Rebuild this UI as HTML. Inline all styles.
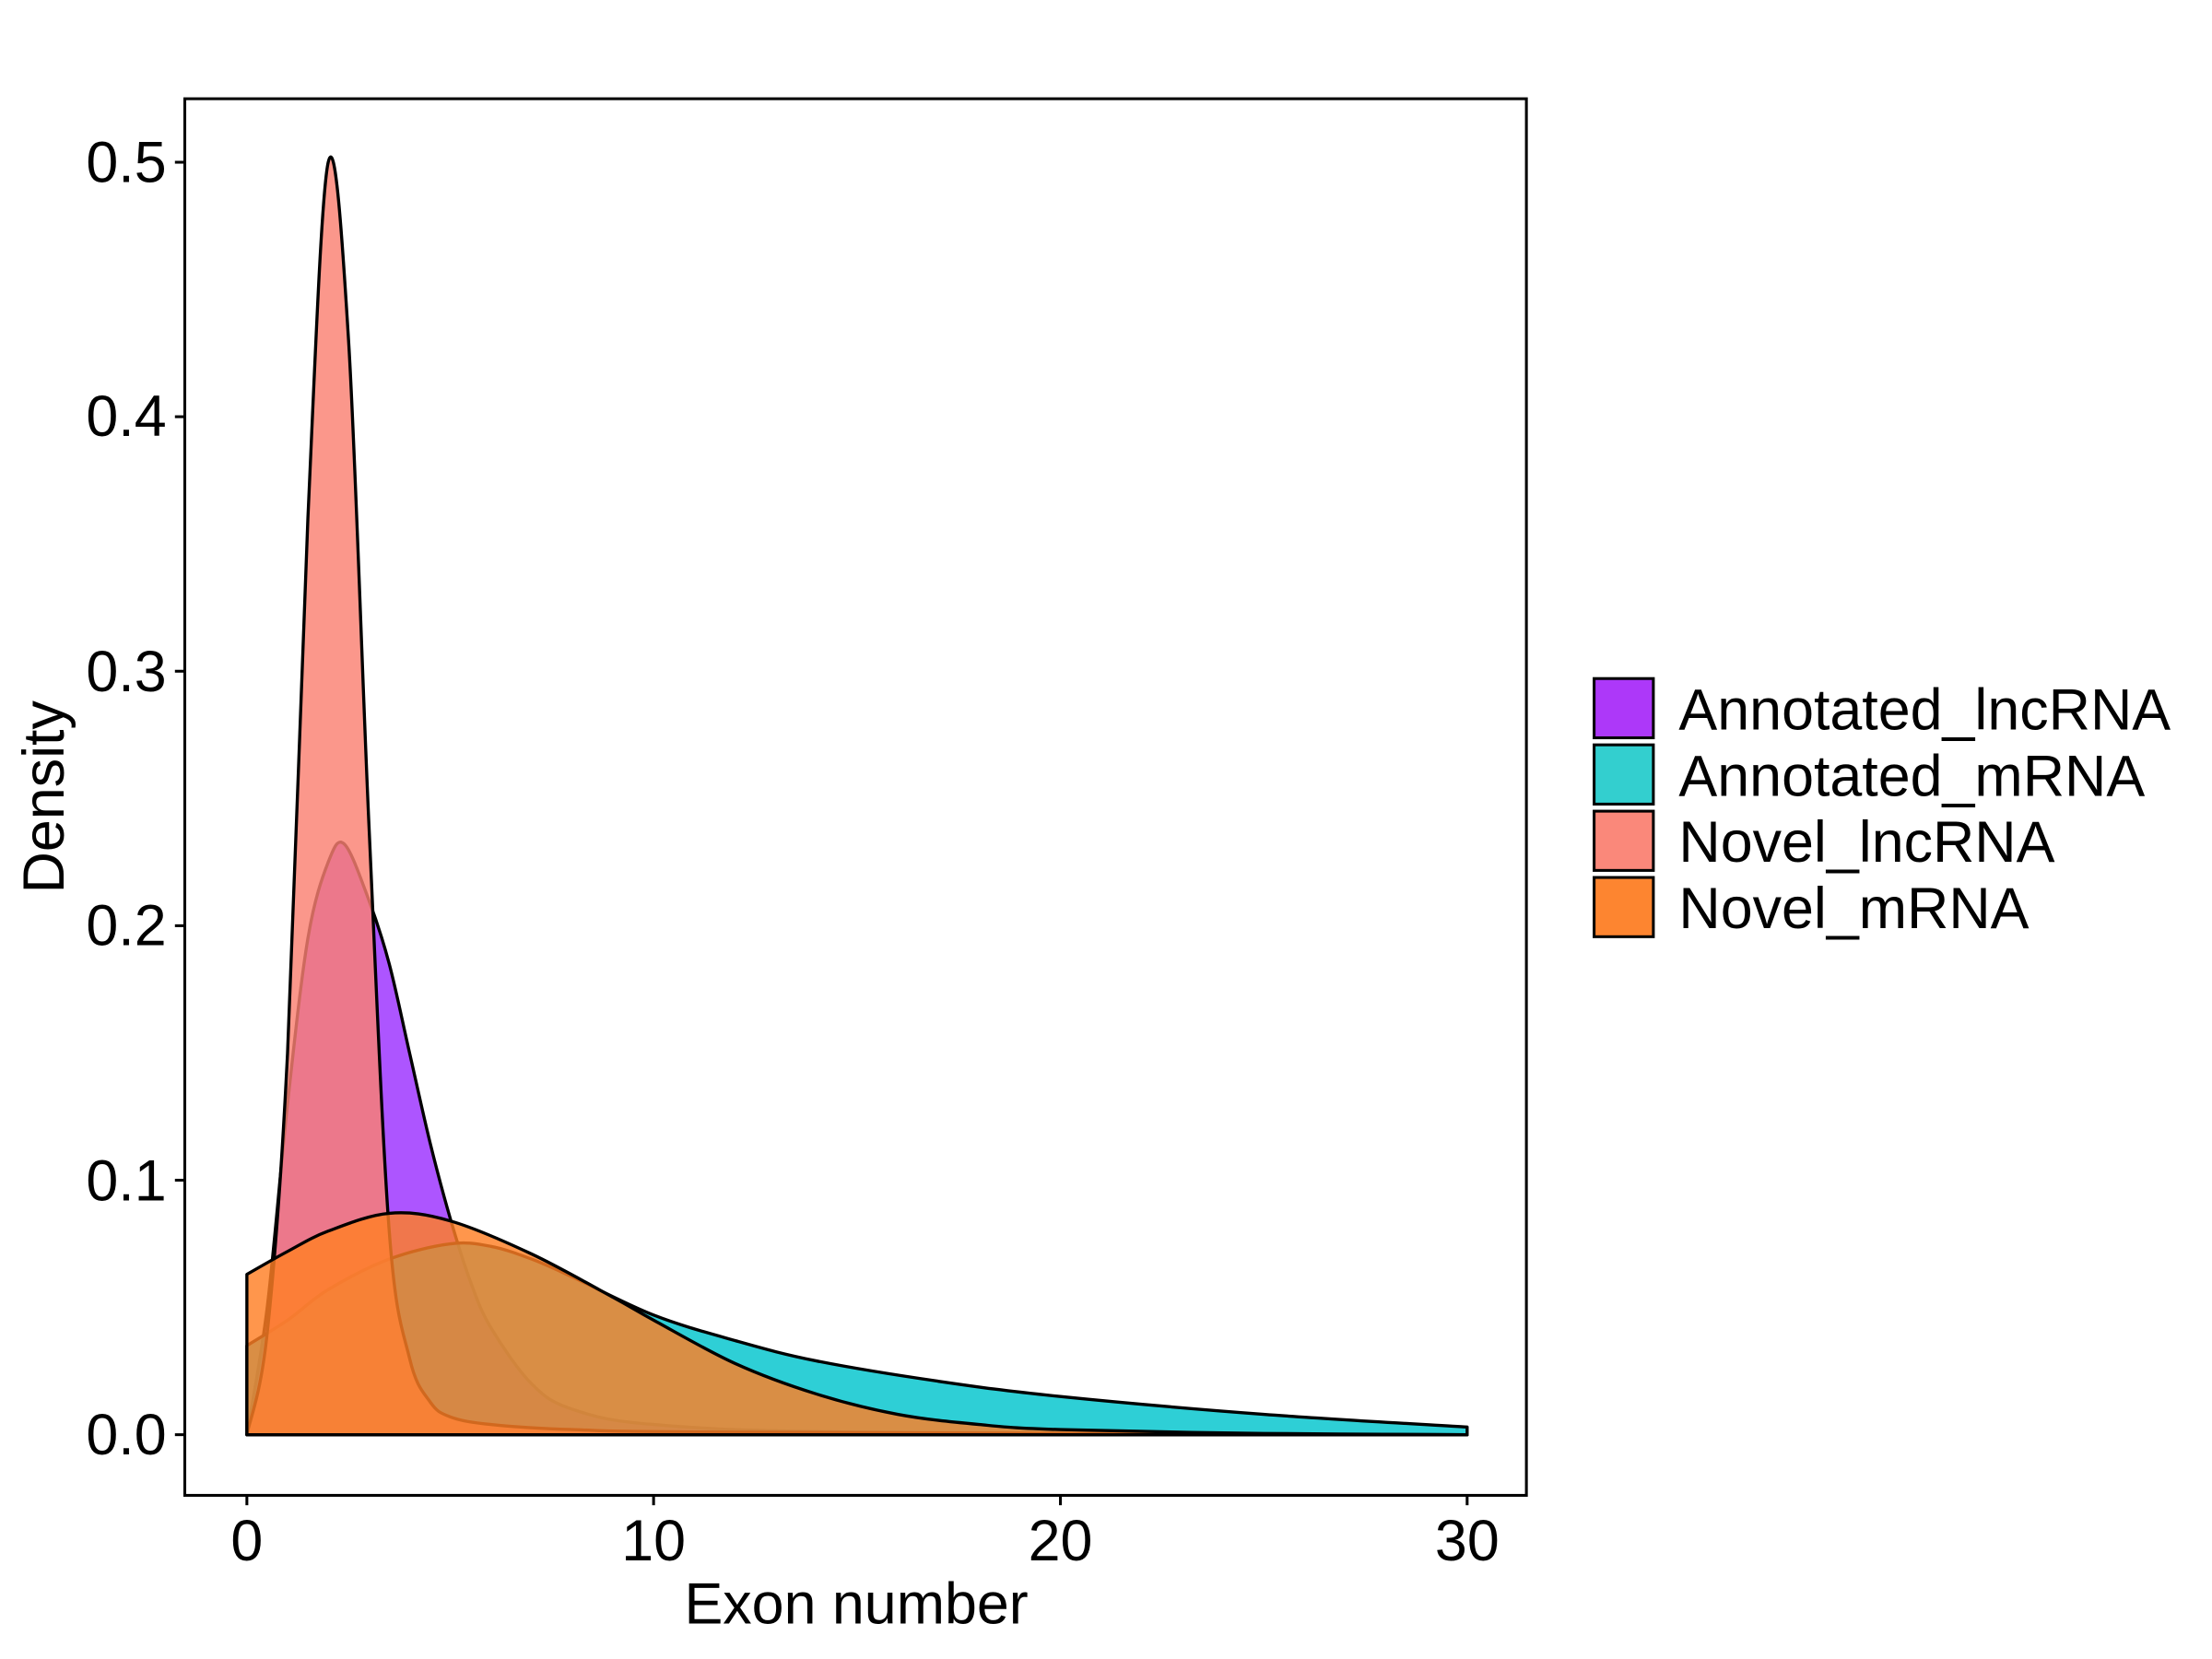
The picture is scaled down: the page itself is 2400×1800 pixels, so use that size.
<!DOCTYPE html>
<html><head><meta charset="utf-8"><style>html,body{margin:0;padding:0;background:#fff}svg{display:block}</style></head>
<body>
<svg id="s" width="2400" height="1800" viewBox="0 0 1568 1176" xmlns="http://www.w3.org/2000/svg" font-family="Liberation Sans, sans-serif">
<rect x="0" y="0" width="1568" height="1176" fill="#fff"/>
<g id="curves"></g>
<rect x="131" y="70" width="951" height="990" fill="none" stroke="#000" stroke-width="2"/>
<g stroke="#000" stroke-width="2">
<line x1="124" y1="1017" x2="131" y2="1017"/><line x1="124" y1="836.6" x2="131" y2="836.6"/>
<line x1="124" y1="656.2" x2="131" y2="656.2"/><line x1="124" y1="475.8" x2="131" y2="475.8"/>
<line x1="124" y1="295.4" x2="131" y2="295.4"/><line x1="124" y1="115" x2="131" y2="115"/>
<line x1="175" y1="1060" x2="175" y2="1067"/><line x1="463.3" y1="1060" x2="463.3" y2="1067"/>
<line x1="751.7" y1="1060" x2="751.7" y2="1067"/><line x1="1040" y1="1060" x2="1040" y2="1067"/>
</g>
<g font-size="41" fill="#000" text-anchor="end">
<text x="118" y="1031">0.0</text><text x="118" y="851">0.1</text><text x="118" y="670">0.2</text>
<text x="118" y="490">0.3</text><text x="118" y="309">0.4</text><text x="118" y="129">0.5</text>
</g>
<g font-size="41" fill="#000" text-anchor="middle">
<text x="175" y="1106">0</text><text x="463.3" y="1106">10</text><text x="751.7" y="1106">20</text><text x="1040" y="1106">30</text>
<text x="607" y="1151" font-size="41">Exon number</text>
<text transform="translate(45,565) rotate(-90)" font-size="41">Density</text>
</g>
<g stroke="#000" stroke-width="2">
<rect x="1130" y="481" width="42" height="42" fill="#ad38f9"/>
<rect x="1130" y="528" width="42" height="42" fill="#33cfcf"/>
<rect x="1130" y="575" width="42" height="42" fill="#fa887a"/>
<rect x="1130" y="622" width="42" height="42" fill="#fd8530"/>
</g>
<g font-size="41" fill="#000">
<text x="1190" y="517">Annotated_lncRNA</text>
<text x="1190" y="564">Annotated_mRNA</text>
<text x="1190" y="611">Novel_lncRNA</text>
<text x="1190" y="658">Novel_mRNA</text>
</g>
</svg>
<script>
function px(x){return 175+28.833*x}
function py(y){return 1017-1804*y}
function path(pts){
 var P=pts.map(function(p){return[px(p[0]),py(p[1])]});
 var d="M"+P[0][0]+","+P[0][1];
 for(var i=0;i<P.length-1;i++){
  var p0=P[i-1]||P[i],p1=P[i],p2=P[i+1],p3=P[i+2]||P[i+1];
  var c1=[p1[0]+(p2[0]-p0[0])/6,p1[1]+(p2[1]-p0[1])/6];
  var c2=[p2[0]-(p3[0]-p1[0])/6,p2[1]-(p3[1]-p1[1])/6];
  d+=" C"+c1[0]+","+Math.min(c1[1],1017)+" "+c2[0]+","+Math.min(c2[1],1017)+" "+p2[0]+","+p2[1];
 }
 return d;
}
var series=[
 {c:"#9b30ff",p:[[0,0],[0.5,0.05],[1,0.13],[1.5,0.195],[2,0.225],[2.4,0.232],[3,0.21],[3.5,0.185],[4,0.15],[4.5,0.115],[5,0.085],[5.5,0.06],[6,0.042],[7,0.02],[8,0.01],[10,0.004],[15,0.001],[30,0]]},
 {c:"#00c5cd",p:[[0,0.035],[1,0.045],[2,0.057],[3.5,0.069],[5,0.075],[6,0.074],[7,0.069],[8,0.062],[10,0.047],[12,0.037],[14,0.029],[17,0.021],[20,0.015],[25,0.008],[30,0.003]]},
 {c:"#fa8072",p:[[0,0],[0.5,0.04],[1,0.15],[1.5,0.36],[2,0.5],[2.5,0.43],[3,0.24],[3.5,0.08],[4,0.03],[4.5,0.013],[5,0.007],[6,0.004],[8,0.002],[12,0.001],[30,0]]},
 {c:"#ff7f24",p:[[0,0.063],[1,0.072],[2,0.080],[3.5,0.087],[5,0.084],[7,0.071],[9,0.054],[10,0.045],[12,0.028],[14,0.016],[16,0.008],[18,0.004],[20,0.002],[25,0.0005],[30,0]]}
];
var g=document.getElementById("curves"),ns="http://www.w3.org/2000/svg";
series.forEach(function(s){
 var e=document.createElementNS(ns,"path");
 e.setAttribute("d","M"+px(0)+",1017 L"+path(s.p).slice(1)+" L"+px(30)+",1017 Z");
 e.setAttribute("fill",s.c);e.setAttribute("fill-opacity","0.82");
 e.setAttribute("stroke","#000");e.setAttribute("stroke-width","2.2");
 e.setAttribute("stroke-linejoin","round");
 g.appendChild(e);
});
</script>
</body></html>
